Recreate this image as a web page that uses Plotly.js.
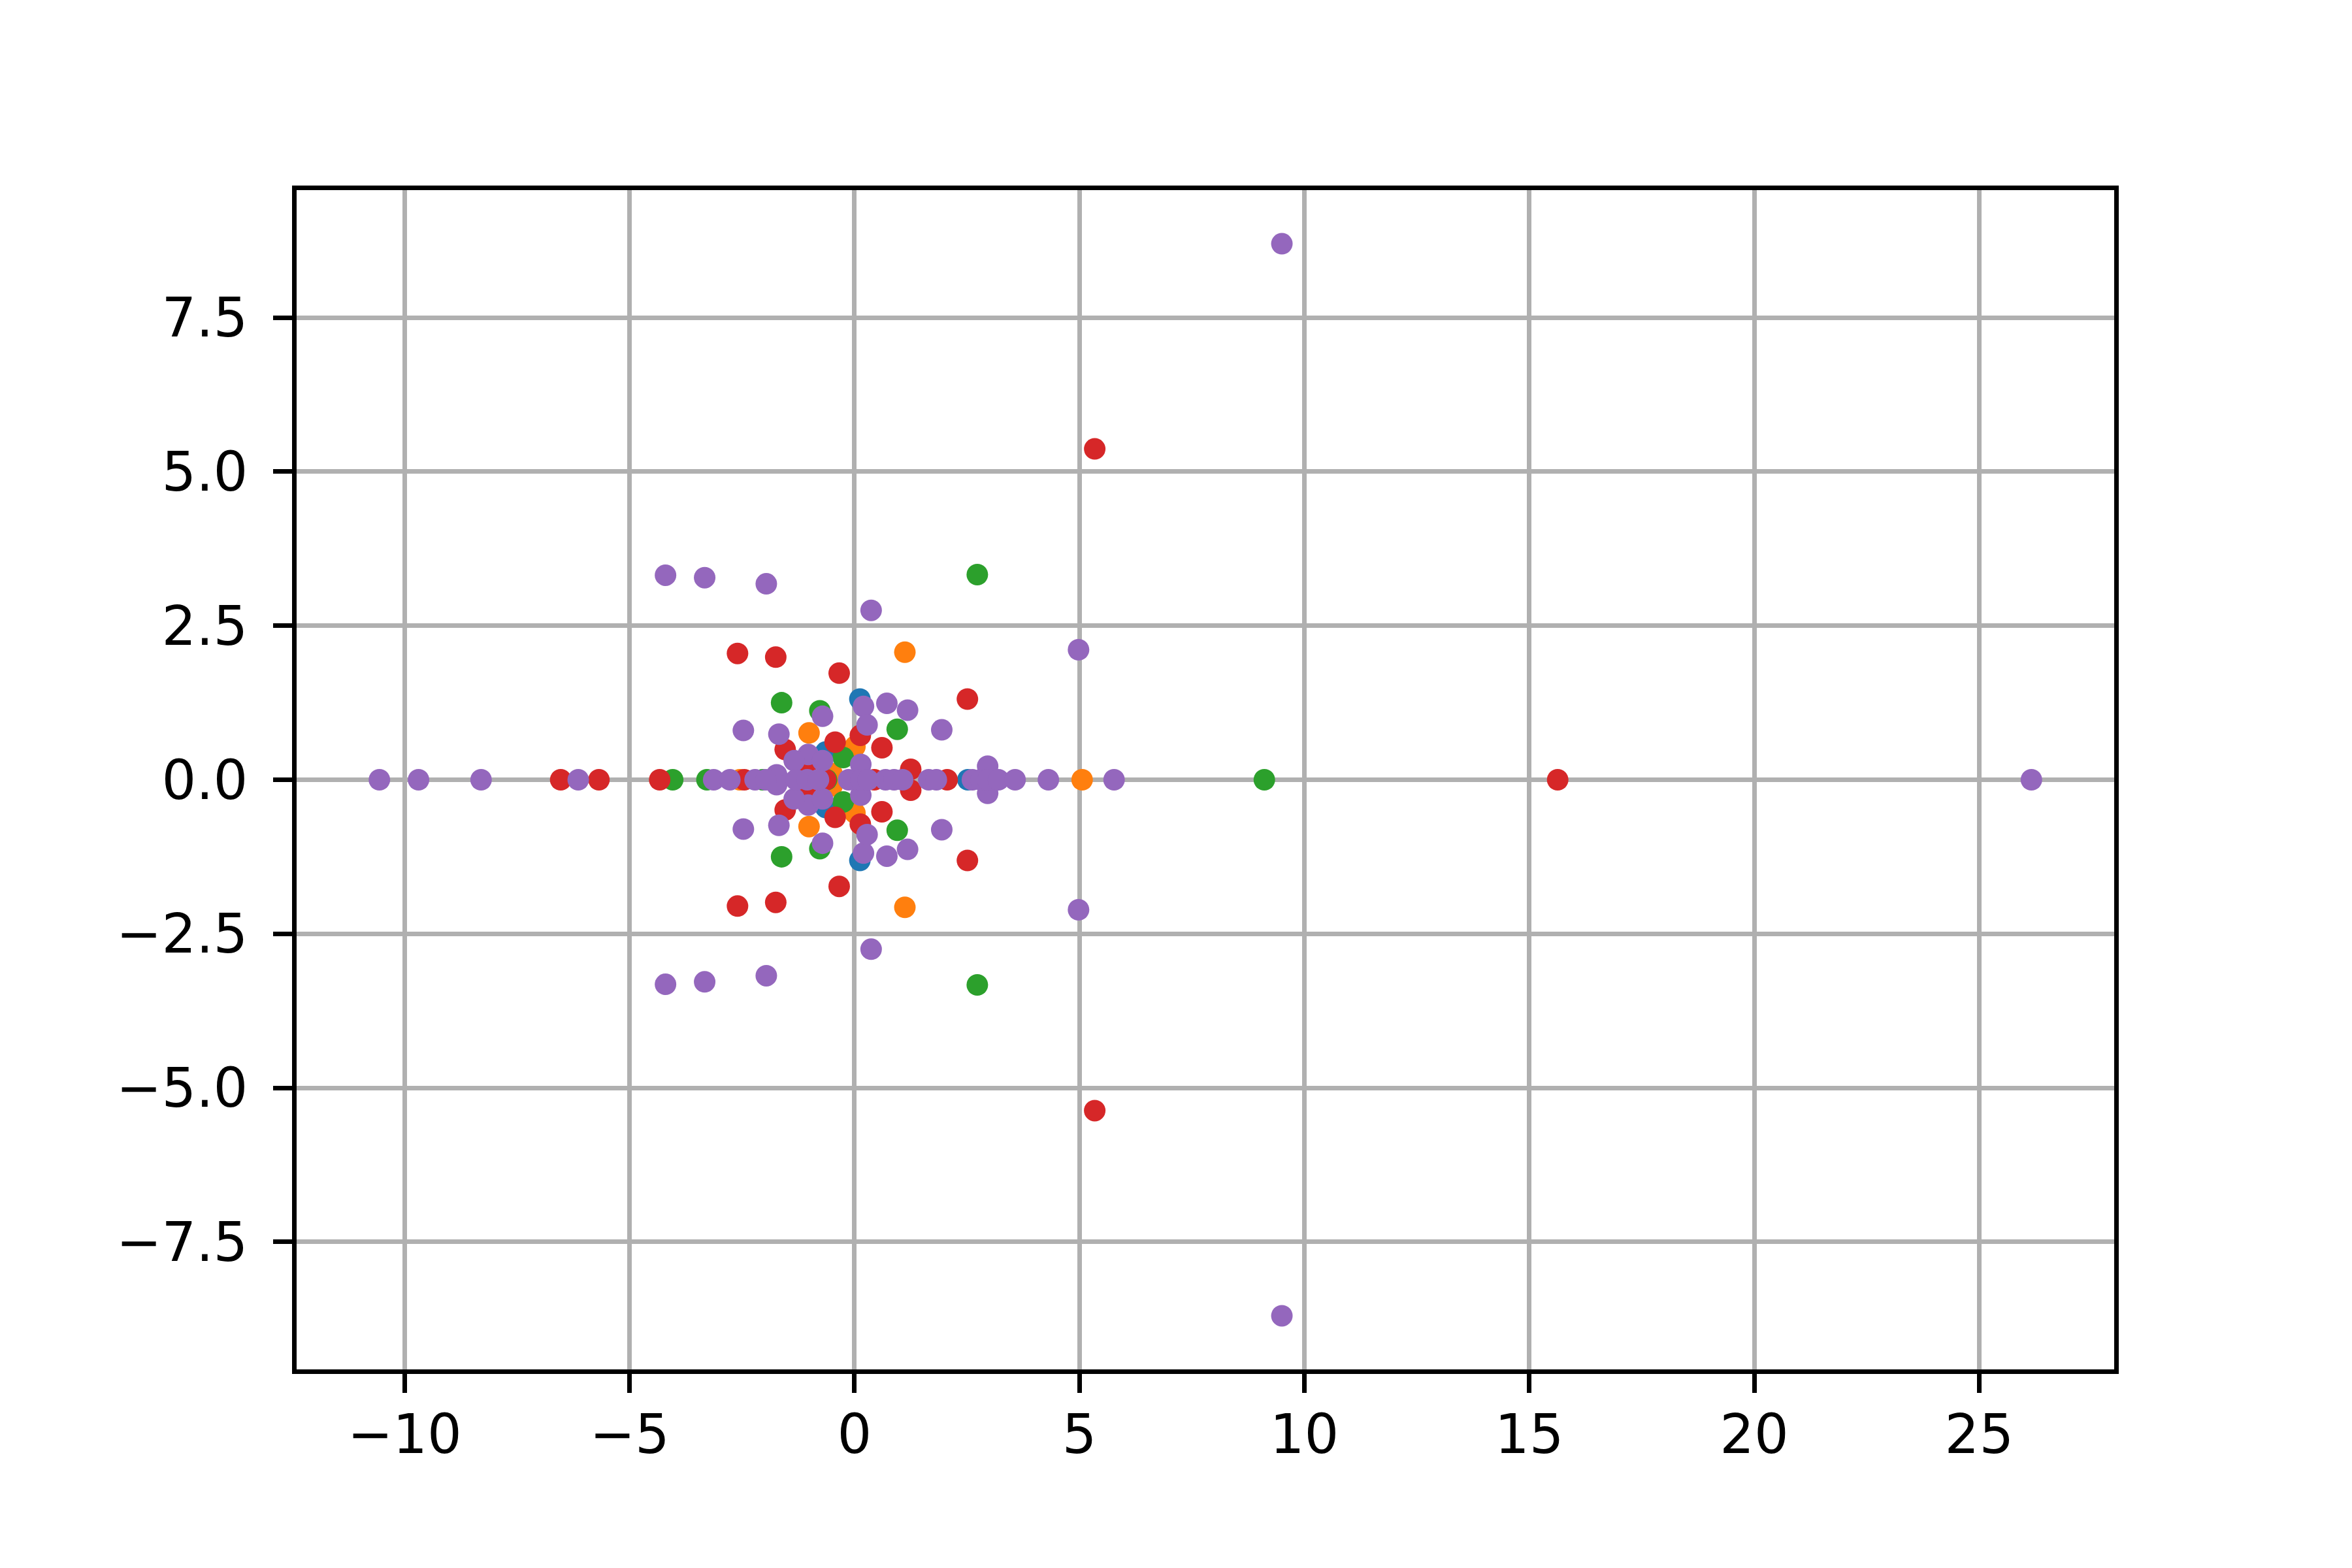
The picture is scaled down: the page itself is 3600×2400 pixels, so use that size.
<!DOCTYPE html>
<html>
<head>
<meta charset="utf-8">
<script src="https://cdn.plot.ly/plotly-3.0.1.min.js"></script>
<style>
  body { margin: 0; background: #fff; }
  #chart { width: 3600px; height: 2400px; }
</style>
</head>
<body>
<div id="chart"></div>
<script>
const blueX = [0.12, 0.12, -0.64, -0.64, 2.52];
const blueY = [1.31, -1.31, 0.45, -0.45, 0];

const orangeX = [1.12, 1.12, -1.01, -1.01, 0.01, 0.01, -0.50, -0.50, -2.55, 5.06];
const orangeY = [2.07, -2.07, 0.76, -0.76, 0.54, -0.54, 0.10, -0.10, 0, 0];

const greenX = [2.73, 2.73, -1.62, -1.62, -0.77, -0.77, 0.95, 0.95, -0.25, -0.25,
                -4.04, -3.28, -2.04, -0.62, 9.11];
const greenY = [3.33, -3.33, 1.25, -1.25, 1.12, -1.12, 0.82, -0.82, 0.36, -0.36,
                0, 0, 0, 0, 0];

const redX = [5.34, 5.34, -2.60, -2.60, -1.75, -1.75, -0.34, -0.34, 2.51, 2.51,
              -1.54, -1.54, -0.43, -0.43, 0.13, 0.13, 0.61, 0.61, 1.25, 1.25,
              -1.08, -1.08, -6.53, -5.68, -4.33, -2.45, -0.64, 0.44, 2.06, 15.63];
const redY = [5.37, -5.37, 2.05, -2.05, 1.99, -1.99, 1.73, -1.73, 1.31, -1.31,
              0.49, -0.49, 0.61, -0.61, 0.72, -0.72, 0.52, -0.52, 0.17, -0.17,
              0.22, -0.22, 0, 0, 0, 0, 0, 0, 0, 0];

const purpleX = [9.50, 9.50, -4.20, -4.20, -3.33, -3.33, -1.96, -1.96, 0.37, 0.37,
                 4.98, 4.98, 0.20, 0.20, -0.71, -0.71, 0.72, 0.72, 1.18, 1.18,
                 0.28, 0.28, 1.94, 1.94, -2.47, -2.47, -1.68, -1.68, 0.14, 0.14,
                 2.96, 2.96, -1.03, -1.03, -1.34, -1.34, -0.71, -0.71, -1.73, -1.73,
                 -10.56, -9.69, -8.30, -6.14, -3.13, -2.77, -2.21, -1.97, -1.30, -1.05,
                 -0.80, -0.13, 0.14, 0.30, 0.69, 0.88, 1.07, 1.65, 1.82, 2.62,
                 2.81, 2.96, 3.20, 3.57, 4.31, 5.77, 26.16];
const purpleY = [8.70, -8.70, 3.32, -3.32, 3.28, -3.28, 3.18, -3.18, 2.75, -2.75,
                 2.11, -2.11, 1.19, -1.19, 1.03, -1.03, 1.24, -1.24, 1.13, -1.13,
                 0.89, -0.89, 0.81, -0.81, 0.80, -0.80, 0.74, -0.74, 0.25, -0.25,
                 0.22, -0.22, 0.41, -0.41, 0.31, -0.31, 0.31, -0.31, 0.08, -0.08,
                 0, 0, 0, 0, 0, 0, 0, 0, 0, 0,
                 0, 0, 0, 0, 0, 0, 0, 0, 0, 0,
                 0, 0, 0, 0, 0, 0, 0];

const seriesX = [blueX, orangeX, greenX, redX, purpleX];
const seriesY = [blueY, orangeY, greenY, redY, purpleY];
const colors = ['#1f77b4', '#ff7f0e', '#2ca02c', '#d62728', '#9467bd'];

const traces = seriesX.map((xs, i) => ({
    x: xs,
    y: seriesY[i],
    type: 'scatter',
    mode: 'markers',
    marker: { color: colors[i], size: 33, line: { width: 0 } },
    hoverinfo: 'skip'
}));

const axisCommon = {
    showline: true,
    mirror: true,
    linecolor: '#000',
    linewidth: 7,
    showgrid: true,
    gridcolor: '#b0b0b0',
    gridwidth: 7,
    zeroline: false,
    ticks: 'outside',
    ticklen: 29,
    tickwidth: 7,
    tickcolor: '#000',
    tickfont: { family: 'DejaVu Sans', size: 83, color: '#000' }
};

const layout = {
    width: 3600,
    height: 2400,
    paper_bgcolor: '#fff',
    plot_bgcolor: '#fff',
    showlegend: false,
    margin: { l: 454, r: 364, t: 291, b: 304 },
    font: { family: 'DejaVu Sans', size: 83, color: '#000' },
    xaxis: Object.assign({}, axisCommon, {
        range: [-12.40, 28.0],
        tickmode: 'linear',
        tick0: 0,
        dtick: 5,
        ticklabelstandoff: -8
    }),
    yaxis: Object.assign({}, axisCommon, {
        range: [-9.57, 9.57],
        tickmode: 'linear',
        tick0: 0,
        dtick: 2.5,
        tickformat: '.1f',
        ticklabelstandoff: 22
    })
};

Plotly.newPlot('chart', traces, layout, { staticPlot: true });
</script>
</body>
</html>
